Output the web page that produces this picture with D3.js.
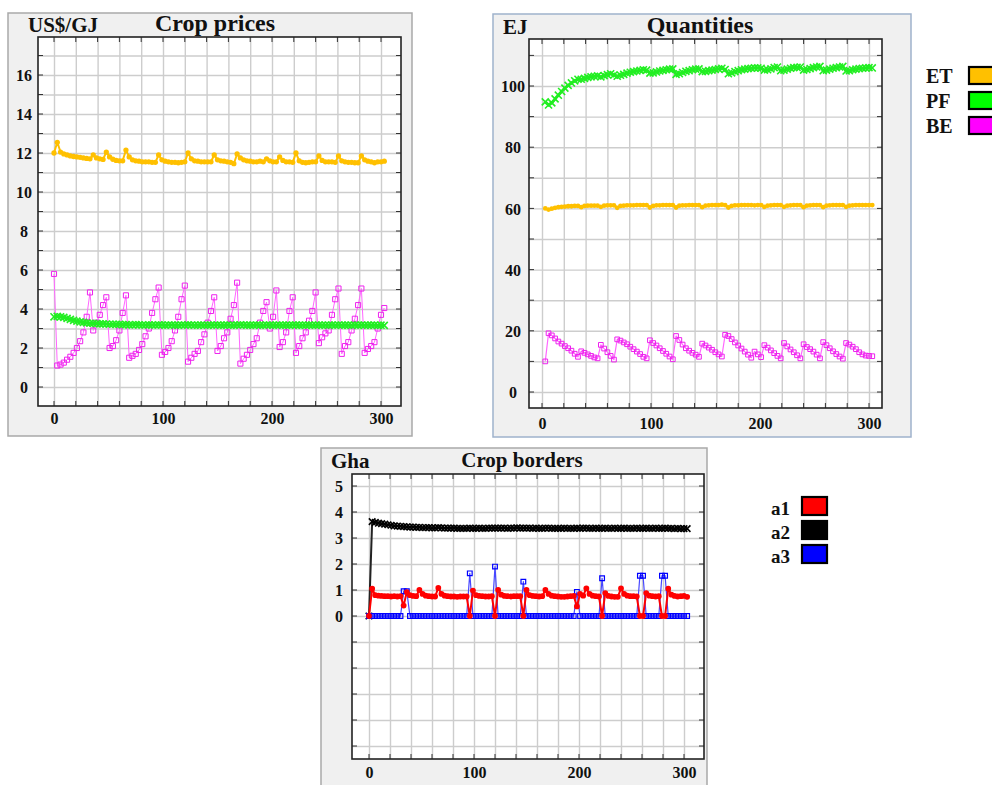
<!DOCTYPE html>
<html>
<head>
<meta charset="utf-8">
<script src="https://cdn.jsdelivr.net/npm/d3@7"></script>
<style>
body { margin: 0; background: #fff; }
svg text { font-family: "Liberation Serif", "Times New Roman", serif; font-weight: bold; fill: #111; }
.grid line { stroke: #cdcdcd; stroke-width: 1.4px; }
.grid path, .lbl path, .lbl line { display: none; }
.lbl text { font-size: 16px; }
</style>
</head>
<body>
<svg width="992" height="785"></svg>
<script>
// model periods, shared by every series
var steps = [0,3,6,9,12,15,18,21,24,27,
  30,33,36,39,42,45,48,51,54,57,
  60,63,66,69,72,75,78,81,84,87,
  90,93,96,99,102,105,108,111,114,117,
  120,123,126,129,132,135,138,141,144,147,
  150,153,156,159,162,165,168,171,174,177,
  180,183,186,189,192,195,198,201,204,207,
  210,213,216,219,222,225,228,231,234,237,
  240,243,246,249,252,255,258,261,264,267,
  270,273,276,279,282,285,288,291,294,297,
  300,303];

// crop prices, US$/GJ
var priceET = [12.0,12.55,12.05,11.95,11.9,11.85,11.82,11.8,11.78,11.75,
  11.72,11.7,11.9,11.75,11.7,11.67,12.05,11.8,11.68,11.62,
  11.6,11.6,12.15,11.8,11.65,11.6,11.58,11.55,11.55,11.55,
  11.52,11.52,11.9,11.65,11.58,11.55,11.52,11.52,11.5,11.52,
  11.55,12.0,11.7,11.6,11.58,11.55,11.55,11.55,11.55,11.9,
  11.65,11.6,11.58,11.55,11.52,11.45,11.95,11.75,11.65,11.6,
  11.58,11.55,11.55,11.58,11.55,11.7,11.6,11.55,11.55,11.8,
  11.62,11.55,11.55,11.52,12.0,11.6,11.52,11.5,11.52,11.55,
  11.55,11.85,11.62,11.55,11.55,11.55,11.52,11.85,11.6,11.55,
  11.52,11.52,11.5,11.5,11.85,11.65,11.58,11.55,11.5,11.55,
  11.55,11.58];
var pricePF = [3.6,3.62,3.6,3.57,3.52,3.47,3.42,3.38,3.34,3.31,
  3.29,3.27,3.26,3.25,3.24,3.24,3.23,3.22,3.22,3.21,
  3.21,3.2,3.2,3.19,3.19,3.2,3.19,3.18,3.18,3.19,
  3.18,3.18,3.19,3.18,3.17,3.18,3.18,3.17,3.17,3.18,
  3.18,3.19,3.18,3.17,3.17,3.18,3.17,3.17,3.18,3.18,
  3.18,3.17,3.17,3.18,3.17,3.17,3.18,3.19,3.18,3.17,
  3.17,3.17,3.18,3.17,3.17,3.18,3.18,3.17,3.17,3.18,
  3.17,3.17,3.17,3.18,3.18,3.17,3.17,3.17,3.18,3.17,
  3.17,3.18,3.17,3.17,3.17,3.18,3.17,3.18,3.17,3.17,
  3.17,3.17,3.18,3.17,3.18,3.17,3.17,3.17,3.17,3.16,
  3.17,3.16];
var priceBE = [5.8,1.1,1.15,1.25,1.4,1.55,1.75,2.0,2.35,2.8,
  3.6,4.85,2.9,3.3,3.7,4.2,4.6,2.0,2.1,2.4,
  2.9,3.8,4.7,1.5,1.6,1.7,1.9,2.2,2.6,3.0,
  3.8,4.5,5.1,1.65,1.8,2.0,2.35,2.9,3.6,4.5,
  5.2,1.3,1.5,1.7,1.85,2.3,2.7,3.3,3.9,4.6,
  1.85,2.1,2.5,2.8,3.5,4.2,5.35,1.2,1.45,1.65,
  1.9,2.2,2.5,3.3,3.9,4.35,3.0,3.6,4.95,2.05,
  2.3,2.8,3.9,4.6,1.75,2.1,2.5,2.8,3.4,3.9,
  4.85,2.25,2.55,2.75,2.9,3.7,4.5,5.05,1.7,2.1,
  2.3,2.9,3.5,4.2,5.05,1.75,1.95,2.1,2.3,3.0,
  3.7,4.05];

// quantities, EJ (no value at period 0)
var qtyET = [null,60.0,59.6,59.9,60.2,60.4,60.5,60.6,60.7,60.7,
  60.8,60.8,60.4,60.8,60.9,60.9,60.9,60.9,60.5,60.9,
  61.0,61.0,61.0,60.2,60.8,60.9,61.0,61.0,61.0,61.1,
  61.1,61.1,61.1,60.3,60.8,61.0,61.0,61.1,61.1,61.1,
  61.1,60.3,60.9,61.0,61.0,61.1,61.1,61.1,61.1,60.4,
  60.9,61.0,61.1,61.1,61.1,61.2,61.1,60.3,60.8,61.0,
  61.0,61.1,61.1,61.1,61.1,61.0,61.1,61.1,60.5,60.9,
  61.0,61.1,61.1,61.1,60.5,60.9,61.0,61.1,61.1,61.1,
  60.4,60.9,61.0,61.1,61.1,61.1,60.4,60.9,61.0,61.1,
  61.1,61.1,61.1,60.5,60.9,61.0,61.1,61.1,61.1,61.1,
  61.1,61.1];
var qtyPF = [null,94.8,93.8,94.5,95.8,97.0,98.2,99.3,100.2,101.0,
  101.7,102.2,102.2,102.5,102.8,103.0,103.2,103.3,103.0,103.4,
  103.7,104.0,103.6,103.2,103.5,103.8,104.2,104.5,104.7,104.9,
  105.1,105.3,105.2,104.2,104.3,104.6,104.9,105.1,105.3,105.5,
  105.6,103.8,104.0,104.4,104.8,105.0,105.3,105.5,105.6,104.7,
  104.8,105.0,105.2,105.4,105.6,105.8,105.4,104.0,104.3,104.7,
  105.0,105.3,105.5,105.7,105.8,105.9,105.9,105.8,105.2,105.3,
  105.6,106.0,106.2,105.0,105.2,105.5,105.8,106.0,106.1,106.2,
  105.2,105.4,105.7,106.0,106.2,106.4,105.0,105.2,105.5,105.8,
  106.0,106.2,106.4,104.9,105.0,105.3,105.5,105.7,105.8,105.9,
  106.0,105.9];
var qtyBE = [null,10,19.2,18.5,17.5,16.5,15.8,15.0,14.3,13.5,
  12.5,11.5,13.3,12.8,12.3,11.8,11.3,11.0,15.4,14.2,
  13.0,11.8,10.6,17.2,16.8,16.2,15.6,14.8,14.0,13.2,
  12.4,11.5,11.0,16.9,16.0,15.2,14.3,13.4,12.5,11.6,
  10.7,18.3,17.0,15.5,14.3,13.5,12.8,12.2,11.5,15.8,
  15.2,14.5,13.8,13.0,12.3,11.6,18.7,18.3,17.3,16.2,
  15.2,14.2,13.2,12.2,11.2,13.2,12.3,11.4,15.3,14.5,
  13.6,12.7,11.8,11.0,16.0,14.9,13.9,13.0,12.0,11.0,
  15.6,14.7,14.0,13.2,12.2,11.0,16.3,15.3,14.3,13.3,
  12.4,11.6,10.9,16.0,15.5,14.8,14.0,13.0,12.3,11.9,
  11.8,11.7];

// crop borders, Gha
var borderA1 = [0,1.05,0.8,0.78,0.77,0.76,0.76,0.75,0.76,0.75,
  0.76,0.4,0.92,0.8,0.77,0.76,1.0,0.85,0.78,0.76,
  0.75,0.75,1.08,0.85,0.78,0.76,0.75,0.75,0.74,0.75,
  0.75,0.75,0,0.98,0.8,0.77,0.76,0.75,0.75,0.76,
  0,1.0,0.82,0.77,0.76,0.75,0.76,0.76,0.76,0,
  1.0,0.8,0.77,0.76,0.75,0.76,1.0,0.85,0.78,0.76,
  0.75,0.74,0.74,0.75,0.76,0.77,0.37,0.85,0.78,1.06,
  0.85,0.78,0.76,0.75,0,0.88,0.77,0.75,0.74,0.74,
  1.06,0.85,0.78,0.76,0.76,0.75,0,0,0.88,0.78,
  0.76,0.75,0.76,0,0,1.05,0.82,0.77,0.75,0.76,
  0.77,0.74];
var borderA2 = [0,3.63,3.6,3.57,3.55,3.53,3.51,3.49,3.47,3.46,
  3.45,3.44,3.43,3.42,3.42,3.41,3.41,3.40,3.40,3.40,
  3.39,3.39,3.40,3.39,3.38,3.38,3.38,3.38,3.37,3.37,
  3.37,3.37,3.38,3.37,3.37,3.38,3.37,3.37,3.38,3.38,
  3.38,3.38,3.38,3.38,3.37,3.38,3.38,3.39,3.38,3.38,
  3.38,3.38,3.37,3.38,3.37,3.37,3.38,3.38,3.37,3.37,
  3.37,3.37,3.38,3.37,3.37,3.37,3.38,3.37,3.38,3.38,
  3.37,3.37,3.38,3.37,3.37,3.38,3.37,3.37,3.38,3.37,
  3.37,3.38,3.37,3.37,3.37,3.38,3.37,3.37,3.38,3.37,
  3.37,3.38,3.37,3.37,3.38,3.37,3.37,3.36,3.37,3.36,
  3.36,3.36];
var borderA3 = [0,0,0,0,0,0,0,0,0,0,
  0,0.95,0.95,0,0,0,0,0,0,0,
  0,0,0,0,0,0,0,0,0,0,
  0,0,1.64,0,0,0,0,0,0,0,
  1.9,0,0,0,0,0,0,0,0,1.32,
  0,0,0,0,0,0,0,0,0,0,
  0,0,0,0,0,0,0.93,0,0,0,
  0,0,0,0,1.45,0,0,0,0,0,
  0,0,0,0,0,0,1.55,1.55,0,0,
  0,0,0,1.55,1.55,0,0,0,0,0,
  0,0];

var xTicks = [0, 100, 200, 300];
var xGrid = [0,20,40,60,80,100,120,140,160,180,200,220,240,260,280,300];

var legendCrops = ["ET", "PF", "BE"];
var legendCropColors = ["#ffc000", "#00ff00", "#ff00ff"];
var legendBorders = ["a1", "a2", "a3"];
var legendBorderColors = ["#ff0000", "#000000", "#0000ff"];

var svg = d3.select("svg");
var symTimes = d3.symbolTimes || d3.symbolCross;

function drawPanel(p) {
  var g = svg.append("g");
  g.append("rect")
      .attr("x", p.frame[0]).attr("y", p.frame[1])
      .attr("width", p.frame[2] - p.frame[0]).attr("height", p.frame[3] - p.frame[1])
      .attr("fill", "#f0f0f0").attr("stroke", p.frameColor).attr("stroke-width", 1.5);

  var L = p.plot[0], T = p.plot[1], R = p.plot[2], B = p.plot[3];
  var x = d3.scaleLinear().domain([0, 300]).range(p.xRange);
  var y = d3.scaleLinear().domain(p.yDomain).range(p.yRange);

  g.append("rect").attr("x", L).attr("y", T).attr("width", R - L).attr("height", B - T)
      .attr("fill", "#fff");

  g.append("g").attr("class", "grid").attr("transform", "translate(0," + B + ")")
      .call(d3.axisBottom(x).tickValues(xGrid).tickSize(-(B - T)).tickFormat(""));
  g.append("g").attr("class", "grid").attr("transform", "translate(" + L + ",0)")
      .call(d3.axisLeft(y).tickValues(p.yGrid).tickSize(-(R - L)).tickFormat(""));

  // little inward ticks on the frame
  var tk = g.append("g").attr("stroke", "#333").attr("stroke-width", 1);
  xGrid.forEach(function(v) {
    tk.append("line").attr("x1", x(v)).attr("x2", x(v)).attr("y1", T).attr("y2", T + 5);
    tk.append("line").attr("x1", x(v)).attr("x2", x(v)).attr("y1", B).attr("y2", B - 5);
  });
  p.yGrid.forEach(function(v) {
    tk.append("line").attr("y1", y(v)).attr("y2", y(v)).attr("x1", R).attr("x2", R - 5);
    tk.append("line").attr("y1", y(v)).attr("y2", y(v)).attr("x1", L).attr("x2", L + 5);
  });

  var marks = g.append("g");
  p.series.forEach(function(s) {
    var pts = [];
    steps.forEach(function(t, i) {
      if (s.values[i] != null) pts.push({ t: t, v: s.values[i] });
    });
    var line = d3.line().x(function(d) { return x(d.t); }).y(function(d) { return y(d.v); });
    marks.append("path").datum(pts).attr("d", line)
        .attr("fill", "none").attr("stroke", s.line).attr("stroke-width", s.lw)
        .attr("stroke-linejoin", "round");
    var sym = d3.symbol().type(s.shape).size(s.size);
    marks.append("g").selectAll("path").data(pts).enter().append("path")
        .attr("transform", function(d) { return "translate(" + x(d.t) + "," + y(d.v) + ")"; })
        .attr("d", sym)
        .attr("fill", s.fill).attr("stroke", s.stroke).attr("stroke-width", s.sw);
  });

  g.append("rect").attr("x", L).attr("y", T).attr("width", R - L).attr("height", B - T)
      .attr("fill", "none").attr("stroke", "#222").attr("stroke-width", 1.6);

  var xa = g.append("g").attr("class", "lbl").attr("transform", "translate(0," + B + ")")
      .call(d3.axisBottom(x).tickValues(xTicks).tickSize(0).tickFormat(d3.format("d")));
  xa.selectAll("text").attr("dy", null).attr("y", p.xLabelGap);

  var ya = g.append("g").attr("class", "lbl").attr("transform", "translate(" + L + ",0)")
      .call(d3.axisLeft(y).tickValues(p.yTicks).tickSize(0).tickFormat(d3.format("d")));
  ya.selectAll("text").attr("text-anchor", "middle").attr("x", p.yLabelX - L).attr("dy", "0.35em");

  g.append("text").attr("x", p.unitPos[0]).attr("y", p.unitPos[1])
      .style("font-size", p.unitSize + "px").text(p.unit);
  g.append("text").attr("x", p.titlePos[0]).attr("y", p.titlePos[1])
      .attr("text-anchor", "middle").style("font-size", p.titleSize + "px").text(p.title);
}

function drawLegend(names, colors, o) {
  var g = svg.append("g");
  names.forEach(function(n, i) {
    g.append("text").attr("x", o.textX).attr("y", o.baseY + i * o.step)
        .style("font-size", o.fontSize + "px").text(n);
    g.append("rect").attr("x", o.boxX).attr("y", o.boxY + i * o.step)
        .attr("width", o.boxW).attr("height", o.boxH)
        .attr("fill", colors[i]).attr("stroke", "#000").attr("stroke-width", 2.2);
  });
}

drawPanel({
  frame: [8, 13, 412, 436], frameColor: "#a9a9a9",
  plot: [38, 37, 401, 406],
  xRange: [54, 381], yDomain: [0, 16], yRange: [387, 75],
  yGrid: d3.range(0, 18), yTicks: [0, 2, 4, 6, 8, 10, 12, 14, 16],
  xLabelGap: 18, yLabelX: 24,
  unit: "US$/GJ", unitPos: [28, 32], unitSize: 21,
  title: "Crop prices", titlePos: [215, 31], titleSize: 24,
  series: [
    { values: priceET, line: "#ffc000", lw: 2, shape: d3.symbolCircle, size: 22, fill: "#ffc000", stroke: "none", sw: 0 },
    { values: priceBE, line: "#ff66ff", lw: 1, shape: d3.symbolSquare, size: 26, fill: "none", stroke: "#ee22ee", sw: 1 },
    { values: pricePF, line: "#22ee22", lw: 3, shape: symTimes, size: 34, fill: "none", stroke: "#22ee22", sw: 1.6 }
  ]
});

drawPanel({
  frame: [493, 14, 911, 437], frameColor: "#9fb2cc",
  plot: [529, 39, 882, 408],
  xRange: [542, 869], yDomain: [0, 100], yRange: [392, 86],
  yGrid: d3.range(0, 111, 10), yTicks: [0, 20, 40, 60, 80, 100],
  xLabelGap: 21, yLabelX: 513,
  unit: "EJ", unitPos: [503, 34], unitSize: 21,
  title: "Quantities", titlePos: [700, 33], titleSize: 24,
  series: [
    { values: qtyET, line: "#ffc000", lw: 2.5, shape: d3.symbolCircle, size: 18, fill: "#ffc000", stroke: "none", sw: 0 },
    { values: qtyPF, line: "#22ee22", lw: 3, shape: symTimes, size: 34, fill: "none", stroke: "#22ee22", sw: 1.6 },
    { values: qtyBE, line: "#ff66ff", lw: 1.2, shape: d3.symbolSquare, size: 22, fill: "none", stroke: "#ee22ee", sw: 1 }
  ]
});

drawPanel({
  frame: [321, 448, 707, 800], frameColor: "#a9a9a9",
  plot: [352, 474, 704, 759],
  xRange: [369, 684], yDomain: [0, 5], yRange: [616, 486],
  yGrid: d3.range(-5, 6), yTicks: [0, 1, 2, 3, 4, 5],
  xLabelGap: 19, yLabelX: 339,
  unit: "Gha", unitPos: [331, 468], unitSize: 21,
  title: "Crop borders", titlePos: [522, 467], titleSize: 21,
  series: [
    { values: borderA2, line: "#222", lw: 2, shape: symTimes, size: 30, fill: "none", stroke: "#000", sw: 1.6 },
    { values: borderA3, line: "#4848ff", lw: 1.2, shape: d3.symbolSquare, size: 22, fill: "none", stroke: "#0000ff", sw: 1.2 },
    { values: borderA1, line: "#ff0000", lw: 2, shape: d3.symbolCircle, size: 26, fill: "#ff0000", stroke: "none", sw: 0 }
  ]
});

drawLegend(legendCrops, legendCropColors,
  { textX: 926, baseY: 83, step: 25, fontSize: 20, boxX: 969, boxY: 67, boxW: 30, boxH: 17 });
drawLegend(legendBorders, legendBorderColors,
  { textX: 771, baseY: 515, step: 24, fontSize: 19, boxX: 802, boxY: 497, boxW: 25, boxH: 18 });
</script>
</body>
</html>
